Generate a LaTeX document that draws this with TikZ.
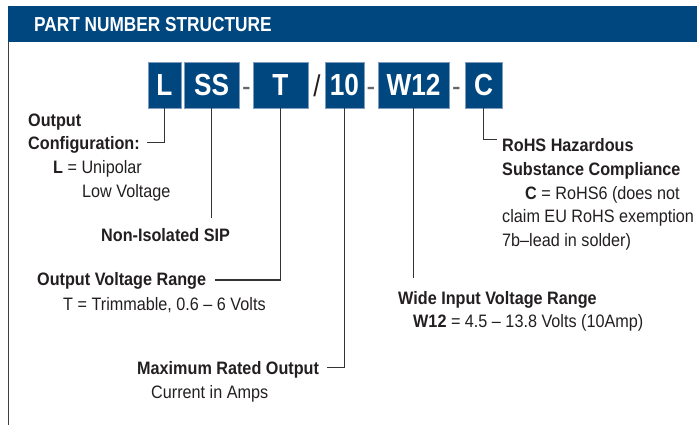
\documentclass[tikz,border=0pt]{standalone}
\usepackage{fontspec}
\setmainfont[FakeStretch=0.9]{Liberation Sans}
\newfontfamily\titlefont[FakeStretch=0.85]{Liberation Sans}
\newfontfamily\boxfont[FakeStretch=0.86]{Liberation Sans}
\definecolor{pnblue}{HTML}{00467F}
\definecolor{pnedge}{HTML}{7F9CBF}
\definecolor{pnline}{HTML}{333333}
\definecolor{pntext}{HTML}{231F20}
\begin{document}
\begin{tikzpicture}[x=1pt,y=-1pt,
  pnbox/.style={rectangle,fill=pnblue,draw=pnedge,line width=0.6pt,minimum height=46pt,inner sep=0pt,
    text=white,font=\boxfont\bfseries\fontsize{30.5}{30}\selectfont,text height=22pt,text depth=0pt},
  sep/.style={inner sep=0pt,anchor=base,font=\boxfont\fontsize{30}{30}\selectfont},
  lbl/.style={inner sep=0pt,anchor=base west,text=pntext,font=\fontsize{18}{18}\selectfont},
  conn/.style={draw=pnline,line width=1pt}]
\useasboundingbox (0,0) rectangle (697,425);
% header
\fill[pnblue] (8,6) rectangle (697,42);
\node[inner sep=0pt,anchor=base west,text=white,font=\titlefont\bfseries\fontsize{20.3}{20}\selectfont] (title) at (34,31.5) {PART NUMBER STRUCTURE};
\draw[draw=black!75,line width=1.3pt] (8.6,42) -- (8.6,425);
% boxes
\node[pnbox,minimum width=33pt] (bL) at (164.5,85) {L};
\node[pnbox,minimum width=55pt] (bSS) at (211.5,85) {SS};
\node[sep,text=black!60] (d1) at (246.5,97) {-};
\node[pnbox,minimum width=55pt] (bT) at (280.5,85) {T};
\node[sep,text=pntext] (sl) at (317,97) {/};
\node[pnbox,minimum width=39pt] (b10) at (344.5,85) {10};
\node[sep,text=black!60] (d2) at (371,97) {-};
\node[pnbox,minimum width=71pt] (bW) at (413.5,85) {W12};
\node[sep,text=black!60] (d3) at (456.5,97) {-};
\node[pnbox,minimum width=37pt] (bC) at (483.5,85) {C};
% labels
\node[lbl] (oc1) at (28,126.5) {\bfseries Output};
\node[lbl] (oc2) at (28,149.5) {\bfseries Configuration:};
\node[lbl] (oc3) at (53,174) {\textbf{L} = Unipolar};
\node[lbl] (oc4) at (82,197.5) {Low Voltage};
\node[lbl] (nis) at (101,241.5) {\bfseries Non-Isolated SIP};
\node[lbl] (ovr) at (37,286) {\bfseries Output Voltage Range};
\node[lbl] (ovr2) at (63,310) {T = Trimmable, 0.6 -- 6 Volts};
\node[lbl] (mro) at (137,374) {\bfseries Maximum Rated Output};
\node[lbl] (mro2) at (151,398) {Current in Amps};
\node[lbl] (rh1) at (502,152) {\bfseries RoHS Hazardous};
\node[lbl] (rh2) at (502,175.5) {\bfseries Substance Compliance};
\node[lbl] (rh3) at (525,199.5) {\textbf{C} = RoHS6 (does not};
\node[lbl] (rh4) at (502,223) {claim EU RoHS exemption};
\node[lbl] (rh5) at (502,246.5) {7b--lead in solder)};
\node[lbl] (wi1) at (398,304) {\bfseries Wide Input Voltage Range};
\node[lbl] (wi2) at (413,327.5) {\textbf{W12} = 4.5 -- 13.8 Volts (10Amp)};
% connector ends
\coordinate (eL) at (146.5,142.7);
\coordinate (eSS) at (211,218);
\coordinate (eT) at (214.5,280);
\coordinate (e10) at (327,367);
\coordinate (eW) at (414,278);
\coordinate (eC) at (496.5,140);
\draw[conn] (bL.south) |- (eL);
\draw[conn] (bSS.south) -- (bSS.south |- eSS);
\draw[conn] (bT.south) |- (eT);
\draw[conn] (b10.south) |- (e10);
\draw[conn] (bW.south) -- (bW.south |- eW);
\draw[conn] (bC.south) |- (eC);
\end{tikzpicture}
\end{document}
